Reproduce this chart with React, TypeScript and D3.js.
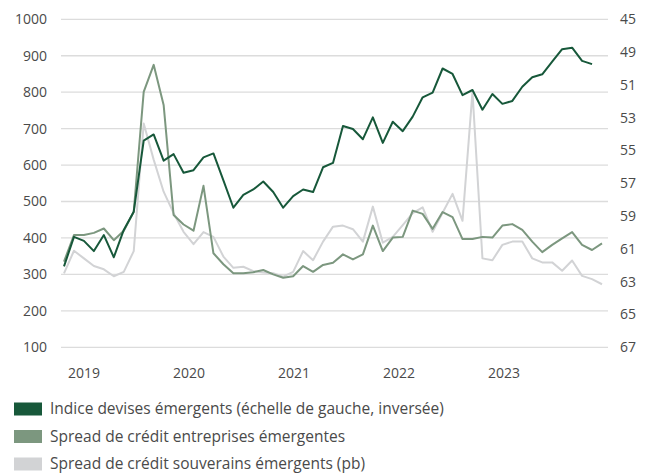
import React from "react";
import * as d3 from "d3";

const leftTicks = [100, 200, 300, 400, 500, 600, 700, 800, 900, 1000];
const rightTicks = ["45", "49", "51", "53", "55", "57", "59", "61", "63", "65", "67"];
const years = [2019, 2020, 2021, 2022, 2023];

// Indice devises émergents (tracé en unités de l'échelle de gauche)
const currencyIndex = [
  322, 403, 392, 364, 408, 347, 422, 472, 667, 684, 612, 630, 579, 586,
  621, 632, 558, 483, 518, 533, 555, 526, 483, 515, 533, 526, 594, 606,
  707, 699, 671, 731, 661, 719, 693, 733, 786, 799, 865, 850, 792, 806,
  752, 795, 768, 776, 815, 841, 849, 884, 918, 922, 886, 877,
];

// Spread de crédit entreprises émergentes
const corpSpread = [
  335, 408, 408, 414, 426, 394, 420, 472, 801, 875, 765, 463, 437, 420,
  543, 358, 328, 303, 303, 306, 312, 300, 291, 295, 323, 307, 326, 332,
  355, 341, 355, 434, 364, 401, 403, 475, 466, 425, 471, 457, 397, 397,
  403, 401, 434, 438, 422, 390, 361, 381, 399, 416, 381, 367, 385,
];

// Spread de crédit souverains émergents (pb)
const sovSpread = [
  303, 365, 344, 323, 314, 295, 307, 364, 714, 615, 527, 468, 417, 383,
  416, 403, 349, 318, 321, 309, 305, 303, 294, 307, 364, 339, 390, 431,
  434, 424, 390, 486, 387, 403, 435, 468, 484, 417, 469, 521, 447, 801,
  344, 339, 381, 390, 390, 344, 333, 333, 310, 338, 296, 287, 273,
];

const legendItems = [
  { label: "Indice devises émergents (échelle de gauche, inversée)", color: "#17583a" },
  { label: "Spread de crédit entreprises émergentes", color: "#7c977f" },
  { label: "Spread de crédit souverains émergents (pb)", color: "#d2d3d5" },
];

const W = 648;
const H = 475;
const FONT = "'Open Sans', 'Noto Sans', sans-serif";
const TEXT = "#4a4a4a";

export default function App() {
  const y = d3.scaleLinear().domain([100, 1000]).range([347.3, 19.3]);
  const yRight = d3.scalePoint<string>().domain(rightTicks).range([19.3, 347.3]);
  const x = d3.scaleLinear().domain([0, 54]).range([64, 602]);
  const xYear = d3.scaleLinear().domain([2019, 2023]).range([84, 504]);

  const line = d3
    .line<number>()
    .x((_, i) => x(i))
    .y((d) => y(d));

  return (
    <svg
      width={W}
      height={H}
      style={{ position: "absolute", left: 0, top: 0, background: "#fff" }}
      fontFamily={FONT}
    >
      {leftTicks.map((t) => (
        <g key={t}>
          <line x1={61} x2={608} y1={y(t)} y2={y(t)} stroke="#dcdcdc" strokeWidth={1.3} />
          <text x={47} y={y(t)} dy="0.35em" textAnchor="end" fontSize={14} fill={TEXT}>
            {t}
          </text>
        </g>
      ))}
      {rightTicks.map((t) => (
        <text key={t} x={620} y={yRight(t)} dy="0.35em" fontSize={14} fill={TEXT}>
          {t}
        </text>
      ))}
      {years.map((yr) => (
        <text key={yr} x={xYear(yr)} y={378} textAnchor="middle" fontSize={14} fill={TEXT}>
          {yr}
        </text>
      ))}
      <path d={line(sovSpread) || ""} fill="none" stroke="#d2d3d5" strokeWidth={2} strokeLinejoin="round" />
      <path d={line(corpSpread) || ""} fill="none" stroke="#7c977f" strokeWidth={2} strokeLinejoin="round" />
      <path d={line(currencyIndex) || ""} fill="none" stroke="#17583a" strokeWidth={2} strokeLinejoin="round" />
      {legendItems.map((it, i) => (
        <g key={it.label} transform={`translate(14, ${409 + i * 27.5})`}>
          <rect x={0} y={-6.5} width={28} height={13} fill={it.color} />
          <text x={36} y={0} dy="0.35em" fontSize={15.5} fill={TEXT}>
            {it.label}
          </text>
        </g>
      ))}
    </svg>
  );
}
